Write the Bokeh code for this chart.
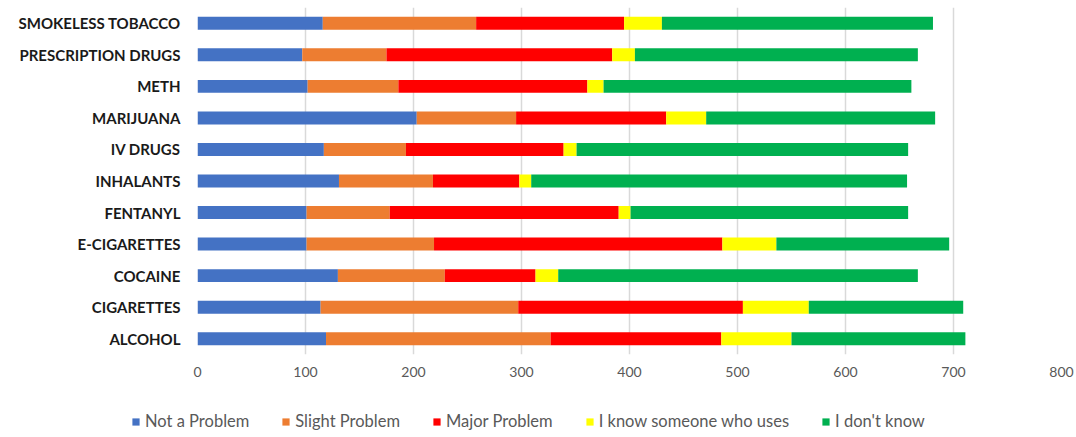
from bokeh.plotting import figure
from bokeh.layouts import column
from bokeh.models import ColumnDataSource, FactorRange, Range1d, FixedTicker
from bokeh.embed import file_html
from bokeh.resources import INLINE

# Categories (top to bottom as shown)
categories = ["SMOKELESS TOBACCO", "PRESCRIPTION DRUGS", "METH", "MARIJUANA",
              "IV DRUGS", "INHALANTS", "FENTANYL", "E-CIGARETTES", "COCAINE",
              "CIGARETTES", "ALCOHOL"]

not_a_problem = [116, 97, 102, 203, 117, 131, 101, 101, 130, 114, 119]
slight_problem = [142, 78, 84, 92, 76, 87, 77, 118, 99, 183, 208]
major_problem = [137, 209, 175, 139, 146, 80, 212, 267, 84, 208, 158]
know_someone = [35, 21, 15, 37, 12, 11, 11, 50, 21, 61, 65]
dont_know = [251, 262, 285, 212, 307, 348, 257, 160, 333, 143, 161]

series_labels = ["Not a Problem", "Slight Problem", "Major Problem",
                 "I know someone who uses", "I don't know"]
series_keys = ["nap", "slight", "major", "know", "dontknow"]
colors = ["#4472C4", "#ED7D31", "#FF0000", "#FFFF00", "#00B050"]
x_ticks = [0, 100, 200, 300, 400, 500, 600, 700, 800]

source = ColumnDataSource(data=dict(
    cat=categories,
    nap=not_a_problem,
    slight=slight_problem,
    major=major_problem,
    know=know_someone,
    dontknow=dont_know,
))

p = figure(
    width=1076, height=395,
    y_range=FactorRange(factors=list(reversed(categories)), range_padding=0),
    x_range=Range1d(0, 800),
    output_backend="svg", toolbar_location=None,
    min_border_left=197, min_border_right=15,
    min_border_top=7, min_border_bottom=41,
)
p.frame_align = False

p.hbar_stack(series_keys, y="cat", height=0.41, color=colors, source=source,
             line_color=None)

p.outline_line_color = None
p.background_fill_color = "white"
p.border_fill_color = "white"

# grid
p.ygrid.grid_line_color = None
p.xgrid.grid_line_color = "#d9d9d9"
p.xgrid.grid_line_width = 1.5
p.xaxis.ticker = FixedTicker(ticks=x_ticks)

# x axis
p.xaxis.axis_line_color = None
p.xaxis.major_tick_line_color = None
p.xaxis.minor_tick_line_color = None
p.xaxis.major_label_text_font = "Lato"
p.xaxis.major_label_text_font_size = "14px"
p.xaxis.major_label_text_color = "#595959"
p.xaxis.major_label_standoff = 6

# y axis
p.yaxis.axis_line_color = None
p.yaxis.major_tick_line_color = None
p.yaxis.minor_tick_line_color = None
p.yaxis.major_label_text_font = "Lato"
p.yaxis.major_label_text_font_style = "bold"
p.yaxis.major_label_text_font_size = "15px"
p.yaxis.major_label_text_color = "#1a1a1a"
p.yaxis.major_label_standoff = 11

# legend strip: a second plot whose view range lies outside the data,
# so only its legend is visible
lp = figure(
    width=1076, height=42,
    y_range=FactorRange(factors=categories), x_range=Range1d(-20, -10),
    x_axis_type=None, y_axis_type=None,
    output_backend="svg", toolbar_location=None,
    min_border_left=0, min_border_right=0, min_border_top=0, min_border_bottom=0,
)
lp.frame_align = False
lp.outline_line_color = None
lp.grid.visible = False
lp.background_fill_color = "white"
lp.border_fill_color = "white"
lp.hbar_stack(series_keys, y="cat", height=0.41, color=colors, source=source,
              line_color=None, legend_label=series_labels)

lg = lp.legend[0]
lg.orientation = "horizontal"
lg.location = (131, 6)
lg.border_line_color = None
lg.background_fill_alpha = 0
lg.padding = 0
lg.margin = 0
lg.glyph_width = 9
lg.glyph_height = 9
lg.label_standoff = 5
lg.spacing = 32
lg.label_height = 14
lg.label_text_font = "Lato"
lg.label_text_font_size = "16.5px"
lg.label_text_color = "#595959"

layout = column(p, lp, spacing=0)
open("out.html", "w").write(file_html(layout, INLINE))
